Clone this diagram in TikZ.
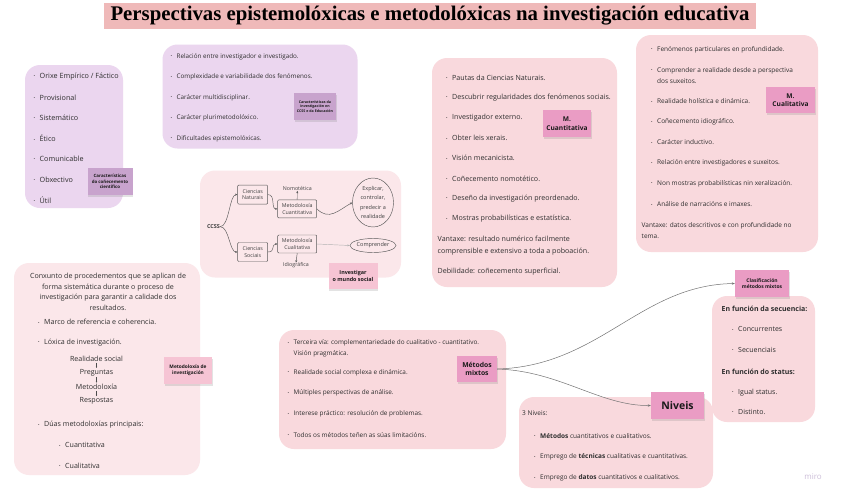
\documentclass[tikz,border=0pt]{standalone}
\usepackage{fontspec}
\setmainfont{Open Sans}
\newfontfamily\titlefont{Liberation Serif}
\usetikzlibrary{shadows,arrows.meta,shapes.geometric}
\definecolor{titlebg}{HTML}{EFB9B9}
\definecolor{purpbox}{HTML}{EBD6EF}
\definecolor{purpst}{HTML}{C8A3CD}
\definecolor{pinkbox}{HTML}{F9D9DD}
\definecolor{lpink}{HTML}{FBE7EA}
\definecolor{magst}{HTML}{EA9CC4}
\definecolor{lpst}{HTML}{F6C4D4}
\definecolor{txtc}{HTML}{2E2E2E}
\definecolor{miroc}{HTML}{CDBFD9}
\newcommand\bdot{\makebox[6pt][l]{\raisebox{0.6pt}{\fontsize{4}{4}\selectfont\textbullet}}}
\tikzset{
  txt/.style={anchor=west, inner sep=0pt, align=left, font=\fontsize{6.4}{10.5}\selectfont, text=txtc},
  tA/.style={font=\fontsize{7.2}{10.5}\selectfont},
  tB/.style={font=\fontsize{6.3}{10.5}\selectfont},
  tD/.style={font=\fontsize{7.1}{11.3}\selectfont},
  tE/.style={font=\fontsize{6.5}{11}\selectfont},
  tF/.style={font=\fontsize{7.1}{10.5}\selectfont},
  tG/.style={font=\fontsize{6.4}{10.5}\selectfont},
  tH/.style={font=\fontsize{7}{10.5}\selectfont},
  tI/.style={font=\fontsize{6.5}{10.5}\selectfont},
  box/.style={rounded corners=15pt, inner sep=0pt},
  sticky/.style={align=center, inner sep=0pt, text=black!90, drop shadow={shadow xshift=0.5pt, shadow yshift=-1.5pt, opacity=0.22}},
  ibox/.style={draw=black!65, line width=0.45pt, rounded corners=1pt, align=center, inner sep=0pt, font=\fontsize{5.3}{6.6}\selectfont, text=black!75},
  itxt/.style={inner sep=0pt, font=\fontsize{5.3}{6.6}\selectfont, text=black!75},
  link/.style={draw=black!65, line width=0.45pt, -{Stealth[length=2.4pt,width=2pt]}},
  conn/.style={draw=black!55, line width=0.5pt, -{Stealth[length=3pt,width=2.4pt]}},
  flow/.style={draw=black!70, line width=0.3pt, -{Stealth[length=1.3pt,width=1.4pt]}, shorten <=1.2pt, shorten >=1.2pt},
}
\begin{document}
\begin{tikzpicture}[x=1pt,y=-1pt]
\useasboundingbox[fill=white] (0,0) rectangle (848,501);

% title
\node (title) [fill=titlebg, minimum width=652pt, minimum height=26pt, inner sep=0pt, font=\titlefont\bfseries\fontsize{20.8}{22}\selectfont, text=black] at (430,16) {Perspectivas epistemolóxicas e metodolóxicas na investigación educativa};

% ---------- boxes ----------
\node (b1) [box, fill=purpbox, minimum width=98pt, minimum height=143pt] at (74,136.5) {};
\node (b2) [box, fill=purpbox, minimum width=195pt, minimum height=104pt] at (260,96.5) {};
\node (b3) [box, fill=lpink, minimum width=201pt, minimum height=107pt] at (300.5,224) {};
\node (b4) [box, fill=pinkbox, minimum width=185pt, minimum height=229pt] at (524.5,172.5) {};
\node (b5) [box, fill=pinkbox, minimum width=182pt, minimum height=217pt] at (727,143.5) {};
\node (b6) [box, fill=lpink, minimum width=186pt, minimum height=212pt] at (107,369) {};
\node (b7) [box, fill=pinkbox, minimum width=227pt, minimum height=119pt] at (392.5,389.5) {};
\node (b8) [box, fill=pinkbox, minimum width=103pt, minimum height=126pt] at (763.5,359) {};
\node (b9) [box, fill=pinkbox, minimum width=194pt, minimum height=91pt] at (616,442.5) {};

% ---------- box 1 ----------
\node (a1) [txt, tA] at (33.5,76.7) {\bdot Orixe Empírico / Fáctico};
\node (a2) [txt, tA] at (33.5,97.3) {\bdot Provisional};
\node (a3) [txt, tA] at (33.5,117.8) {\bdot Sistemático};
\node (a4) [txt, tA] at (33.5,138.3) {\bdot Ético};
\node (a5) [txt, tA] at (33.5,158.8) {\bdot Comunicable};
\node (a6) [txt, tA] at (33.5,179.3) {\bdot Obxectivo};
\node (a7) [txt, tA] at (33.5,199.8) {\bdot Útil};
\node (s1) [sticky, fill=purpst, minimum width=45pt, minimum height=27pt, font=\bfseries\fontsize{4.4}{5.4}\selectfont] at (110,181.5) {Características\\do coñecemento\\científico};

% ---------- box 2 ----------
\node (c1) [txt, tB] at (170.5,56.7) {\bdot Relación entre investigador e investigado.};
\node (c2) [txt, tB] at (170.5,77) {\bdot Complexidade e variabilidade dos fenómenos.};
\node (c3) [txt, tB] at (170.5,97.5) {\bdot Carácter multidisciplinar.};
\node (c4) [txt, tB] at (170.5,118) {\bdot Carácter plurimetodolóxico.};
\node (c5) [txt, tB] at (170.5,138.4) {\bdot Dificultades epistemolóxicas.};
\node (s2) [sticky, fill=purpst, minimum width=42pt, minimum height=27pt, font=\bfseries\fontsize{3.6}{4.6}\selectfont] at (315,106.5) {Características da\\investigación en\\CCSS e da Educación};

% ---------- box 3 (CCSS) ----------
\node (ccss) [itxt, font=\bfseries\fontsize{5.5}{6.6}\selectfont] at (213.5,226.7) {CCSS};
\node (nat) [ibox, minimum width=30pt, minimum height=19pt] at (252.7,194.6) {Ciencias\\Naturais};
\node (soc) [ibox, minimum width=30pt, minimum height=19pt] at (252.7,252) {Ciencias\\Sociais};
\node (mcn) [ibox, minimum width=39pt, minimum height=18pt] at (297.2,208.9) {Metodoloxía\\Cuantitativa};
\node (mcl) [ibox, minimum width=39pt, minimum height=18pt] at (297.2,244) {Metodoloxía\\Cualitativa};
\node (nomo) [itxt] at (297.3,188.5) {Nomotética};
\node (idio) [itxt] at (296,265.5) {Idiográfica};
\node (expl) [ellipse, draw=black!65, line width=0.45pt, inner sep=0pt, minimum width=41pt, minimum height=49pt, align=center, font=\fontsize{5.5}{9.3}\selectfont, text=black!75] at (373,202.5) {Explicar,\\controlar,\\predecir a\\realidade};
\node (comp) [ellipse, draw=black!65, line width=0.45pt, inner sep=0pt, minimum width=41pt, minimum height=14pt, font=\fontsize{5.5}{6.6}\selectfont, text=black!75] at (373,245.5) {Comprender};
\draw[link] (ccss.east) .. controls +(9,0) and +(-8,0) .. (nat.west);
\draw[link] (ccss.east) .. controls +(9,0) and +(-8,0) .. (soc.west);
\draw[link] (nat.east) .. controls +(8,0) and +(-7,0) .. (mcn.west);
\draw[link] (soc.east) .. controls +(8,0) and +(-7,0) .. (mcl.west);
\draw[link] (mcn.north) -- (nomo.south);
\draw[link] (mcl.south) -- (idio.north);
\draw[link] (mcn.east) .. controls +(12,12) and +(-14,8) .. (expl.west);
\draw[link, draw=black!30] (mcl.east) -- (comp.west);
\node (s3) [sticky, fill=lpst, minimum width=49pt, minimum height=26pt, font=\bfseries\fontsize{5.4}{7}\selectfont] at (353,276) {Investigar\\o mundo social};

% ---------- box 4 (Cuantitativa) ----------
\node (d1) [txt, tD] at (446,77.5) {\bdot Pautas da Ciencias Naturais.};
\node (d2) [txt, tD] at (446,97.7) {\bdot Descubrir regularidades dos fenómenos sociais.};
\node (d3) [txt, tD] at (446,117.9) {\bdot Investigador externo.};
\node (d4) [txt, tD] at (446,138.1) {\bdot Obter leis xerais.};
\node (d5) [txt, tD] at (446,158.3) {\bdot Visión mecanicista.};
\node (d6) [txt, tD] at (446,178.5) {\bdot Coñecemento nomotético.};
\node (d7) [txt, tD] at (446,198.7) {\bdot Deseño da investigación preordenado.};
\node (d8) [txt, tD] at (446,218.9) {\bdot Mostras probabilísticas e estatística.};
\node (d9) [txt, tD] at (437.5,245.5) {Vantaxe: resultado numérico facilmente\\comprensible e extensivo a toda a poboación.};
\node (d10) [txt, tD] at (437.5,271.5) {Debilidade: coñecemento superficial.};
\node (s4) [sticky, fill=magst, minimum width=48pt, minimum height=27pt, font=\bfseries\fontsize{6.6}{8.4}\selectfont] at (567,123.5) {M.\\Cuantitativa};

% ---------- box 5 (Cualitativa) ----------
\node (e1) [txt, tE] at (651,49.5) {\bdot Fenómenos particulares en profundidade.};
\node (e2) [txt, tE] at (651,75.5) {\bdot Comprender a realidade desde a perspectiva\\\hspace*{6pt}dos suxeitos.};
\node (e3) [txt, tE] at (651,101.5) {\bdot Realidade holística e dinámica.};
\node (e4) [txt, tE] at (651,122) {\bdot Coñecemento idiográfico.};
\node (e5) [txt, tE] at (651,142.5) {\bdot Carácter inductivo.};
\node (e6) [txt, tE] at (651,163) {\bdot Relación entre investigadores e suxeitos.};
\node (e7) [txt, tE] at (651,183.7) {\bdot Non mostras probabilísticas nin xeralización.};
\node (e8) [txt, tE] at (651,204.3) {\bdot Análise de narracións e imaxes.};
\node (e9) [txt, tE] at (641.5,230.5) {Vantaxe: datos descritivos e con profundidade no\\tema.};
\node (s5) [sticky, fill=magst, minimum width=49pt, minimum height=26pt, font=\bfseries\fontsize{6.6}{8.4}\selectfont] at (790.5,100) {M.\\Cualitativa};

% ---------- box 6 (Metodoloxia) ----------
\node (m0) [inner sep=0pt, align=center, tF, text=txtc] at (108,291.7) {Conxunto de procedementos que se aplican de\\forma sistemática durante o proceso de\\investigación para garantir a calidade dos\\resultados.};
\node (m1) [txt, tF] at (38,322) {\bdot Marco de referencia e coherencia.};
\node (m2) [txt, tF] at (38,342.5) {\bdot Lóxica de investigación.};
\node (r1) [inner sep=0pt, font=\fontsize{7.1}{7.5}\selectfont, text=txtc] at (96.5,358.5) {Realidade social};
\node (r2) [inner sep=0pt, font=\fontsize{7.1}{7.5}\selectfont, text=txtc] at (96.5,372.6) {Preguntas};
\node (r3) [inner sep=0pt, font=\fontsize{7.1}{7.5}\selectfont, text=txtc] at (96.5,386.7) {Metodoloxía};
\node (r4) [inner sep=0pt, font=\fontsize{7.1}{7.5}\selectfont, text=txtc] at (96.5,400.8) {Respostas};
\draw[flow] (r1) -- (r2);
\draw[flow] (r2) -- (r3);
\draw[flow] (r3) -- (r4);
\node (m3) [txt, tF] at (38,425) {\bdot Dúas metodoloxías principais:};
\node (m4) [txt, tF] at (59,445.3) {\bdot Cuantitativa};
\node (m5) [txt, tF] at (59,465.5) {\bdot Cualitativa};
\node (s6) [sticky, fill=lpst, minimum width=48pt, minimum height=27pt, font=\bfseries\fontsize{4.8}{6.4}\selectfont] at (188,370.5) {Metodoloxía de\\investigación};

% ---------- box 7 (mixtos) ----------
\node (f1) [txt, tG] at (287.5,348.5) {\bdot Terceira vía: complementariedade do cualitativo - cuantitativo.\\\hspace*{6pt}Visión pragmática.};
\node (f2) [txt, tG] at (287.5,372.5) {\bdot Realidade social complexa e dinámica.};
\node (f3) [txt, tG] at (287.5,393.2) {\bdot Múltiples perspectivas de análise.};
\node (f4) [txt, tG] at (287.5,414) {\bdot Interese práctico: resolución de problemas.};
\node (f5) [txt, tG] at (287.5,435) {\bdot Todos os métodos teñen as súas limitacións.};
\node (mix) [sticky, fill=magst, minimum width=40pt, minimum height=26pt, font=\bfseries\fontsize{6.8}{8.8}\selectfont] at (477,369) {Métodos\\mixtos};

% ---------- clasificacion ----------
\node (g1) [txt, tH, font=\bfseries\fontsize{7}{10.5}\selectfont] at (721.5,308.5) {En función da secuencia:};
\node (g2) [txt, tH] at (732,329.3) {\bdot Concurrentes};
\node (g3) [txt, tH] at (732,350) {\bdot Secuenciais};
\node (g4) [txt, tH, font=\bfseries\fontsize{7}{10.5}\selectfont] at (721.5,371.5) {En función do status:};
\node (g5) [txt, tH] at (732,392.5) {\bdot Igual status.};
\node (g6) [txt, tH] at (732,412) {\bdot Distinto.};
\node (clas) [sticky, fill=magst, minimum width=54pt, minimum height=27pt, font=\bfseries\fontsize{5}{6.6}\selectfont] at (762,283.5) {Clasificación\\métodos mixtos};

% ---------- niveis ----------
\node (h0) [txt, tI] at (522,413.5) {3 Niveis:};
\node (h1) [txt, tI] at (534,436) {\bdot \textbf{Métodos} cuantitativos e cualitativos.};
\node (h2) [txt, tI] at (534,457) {\bdot Emprego de \textbf{técnicas} cualitativas e cuantitativas.};
\node (h3) [txt, tI] at (534,478) {\bdot Emprego de \textbf{datos} cuantitativos e cualitativos.};
\node (niv) [sticky, fill=magst, minimum width=53pt, minimum height=27pt, font=\bfseries\fontsize{10.5}{12}\selectfont] at (677.5,405.5) {Niveis};

% ---------- connectors ----------
\draw[conn] (mix.east) .. controls (600,366) and (640,285) .. (clas.west);
\draw[conn] (mix.east) .. controls (560,371) and (600,406) .. (niv.west);

\node (miro) [inner sep=0pt, font=\fontsize{8}{9}\selectfont, text=miroc] at (813,477) {miro};
\end{tikzpicture}
\end{document}
